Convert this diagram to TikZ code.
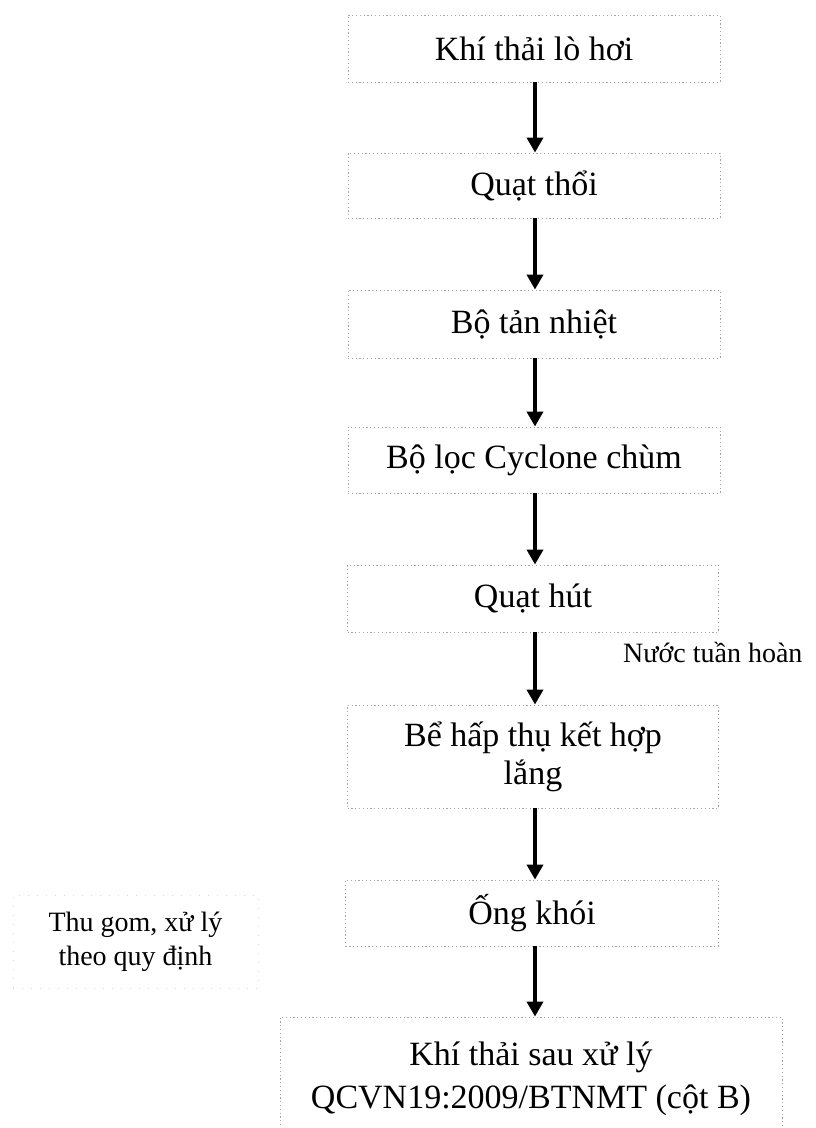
\documentclass[tikz,border=0pt]{standalone}
\usepackage{fontspec}
\setmainfont{Liberation Serif}
\usetikzlibrary{arrows.meta}
\begin{document}
\begin{tikzpicture}[x=1pt,y=-1pt,
  boxstyle/.style={draw=gray!70, line width=0.9pt, dash pattern=on 1.2pt off 2.6pt,
    rectangle, inner sep=0pt, align=center, font=\fontsize{34}{38}\selectfont},
  faintbox/.style={draw=gray!30, line width=0.7pt, dash pattern=on 1pt off 8pt,
    rectangle, inner sep=0pt, align=center, font=\fontsize{28}{34}\selectfont},
  flow/.style={line width=3.6pt, -{Triangle[width=16pt,length=15pt]}, black},
  sidelabel/.style={font=\fontsize{28}{34}\selectfont, inner sep=0pt}]
\useasboundingbox (0,0) rectangle (815,1128);
\clip (0,0) rectangle (815,1128);
\fill[white] (0,0) rectangle (815,1128);

\node[boxstyle, minimum width=372pt, minimum height=67pt] (b1) at (534,48.5) {Khí thải lò hơi};
\node[boxstyle, minimum width=372pt, minimum height=65pt] (b2) at (534,185.5) {Quạt thổi};
\node[boxstyle, minimum width=372pt, minimum height=68pt] (b3) at (534,324) {Bộ tản nhiệt};
\node[boxstyle, minimum width=372pt, minimum height=66pt] (b4) at (534,460) {Bộ lọc Cyclone chùm};
\node[boxstyle, minimum width=371pt, minimum height=67pt] (b5) at (533,598.5) {Quạt hút};
\node[boxstyle, minimum width=371pt, minimum height=103pt] (b6) at (533,756.5) {Bể hấp thụ kết hợp\\lắng};
\node[boxstyle, minimum width=373pt, minimum height=66pt] (b7) at (532,913) {Ống khói};
\node[boxstyle, minimum width=502pt, minimum height=124pt, font=\fontsize{34}{43}\selectfont] (b8) at (531,1079) {Khí thải sau xử lý\\QCVN19:2009/BTNMT (cột B)};

\node[faintbox, minimum width=245pt, minimum height=93pt] (side) at (135.5,941.5) {Thu gom, xử lý\\theo quy định};

\node[sidelabel, anchor=west] (water) at (623,652) {Nước tuần hoàn};

\coordinate (a1s) at (535,82);
\draw[flow] (b1.south -| a1s) -- (b2.north -| a1s);
\draw[flow] (b2.south -| a1s) -- (b3.north -| a1s);
\draw[flow] (b3.south -| a1s) -- (b4.north -| a1s);
\draw[flow] (b4.south -| a1s) -- (b5.north -| a1s);
\draw[flow] (b5.south -| a1s) -- (b6.north -| a1s);
\draw[flow] (b6.south -| a1s) -- (b7.north -| a1s);
\draw[flow] (b7.south -| a1s) -- (b8.north -| a1s);
\end{tikzpicture}
\end{document}
